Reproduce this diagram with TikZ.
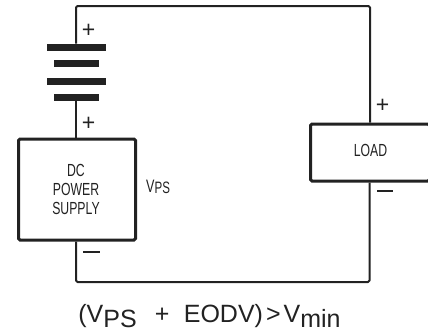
\documentclass[tikz,border=0pt]{standalone}
\usepackage{fontspec}
\setmainfont{Liberation Sans}
\newfontfamily\narrowfont[FakeStretch=0.7]{Liberation Sans}
\usetikzlibrary{calc}
\definecolor{ink}{HTML}{222222}
\tikzset{
  wire/.style={draw=ink,line width=2pt,line join=round},
  heavybox/.style={draw=ink,line width=3pt,rounded corners=1.5pt,inner sep=0pt,anchor=north west},
  plate/.style={fill=ink,inner sep=0pt,draw=none},
  sign/.style={font=\fontsize{23}{23}\selectfont,text=ink,inner sep=0pt},
  boxlabel/.style={font=\narrowfont\fontsize{17.5}{19}\selectfont,text=ink,align=center,inner sep=0pt},
}
\begin{document}
\begin{tikzpicture}[x=1pt,y=-1pt]
\useasboundingbox (0,0) rectangle (428,333);
\fill[white] (0,0) rectangle (428,333);
\node[heavybox,minimum width=117pt,minimum height=101pt] (psu) at (17,137.5) {};
\node[heavybox,minimum width=119pt,minimum height=57pt] (load) at (309,122.5) {};
\node[plate,minimum width=59pt,minimum height=7.5pt] (p1) at (76.5,47.5) {};
\node[plate,minimum width=45pt,minimum height=6.5pt] (p2) at (76.5,63.5) {};
\node[plate,minimum width=59pt,minimum height=7.5pt] (p3) at (76.5,81.5) {};
\node[plate,minimum width=45pt,minimum height=6.5pt] (p4) at (76.5,97.5) {};
\coordinate (tl) at (76,6);
\coordinate (tr) at (370,6);
\coordinate (bl) at (76,282);
\coordinate (br) at (369.5,282);
\draw[wire,rounded corners=1.5pt] (p1.north -| tl) -- (tl) -- (tr) -- (load.north -| tr);
\draw[wire] (p4.south -| tl) -- (psu.north -| tl);
\draw[wire,rounded corners=1.5pt] (psu.south -| bl) -- (bl) -- (br) -- (load.south -| br);
\node[sign] (s1) at (88.5,31) {+};
\node[sign] (s2) at (88.5,123.5) {+};
\node[sign] (s3) at (382.5,106) {+};
\node[sign] (s4) at (91.5,252) {\rule{17pt}{1.6pt}};
\node[sign] (s5) at (385,191) {\rule{16pt}{1.6pt}};
\node[boxlabel] (t1) at (76,189.5) {DC\\POWER\\SUPPLY};
\node[boxlabel] (t2) at (370.5,150) {LOAD};
\node[boxlabel,anchor=base west,font=\narrowfont\fontsize{18}{18}\selectfont] (t3) at (146,192) {V\raisebox{-1.5pt}{\fontsize{16.5}{16.5}\selectfont PS}};
\node[anchor=base,inner sep=0pt,text=ink,font=\fontsize{25}{25}\selectfont] (f) at (209.5,322.5) {(V\raisebox{-5pt}{PS}\hspace{0.72em}+\hspace{0.58em}EODV)\hspace{0.12em}>\hspace{0.12em}V\raisebox{-5pt}{min}};
\end{tikzpicture}
\end{document}
